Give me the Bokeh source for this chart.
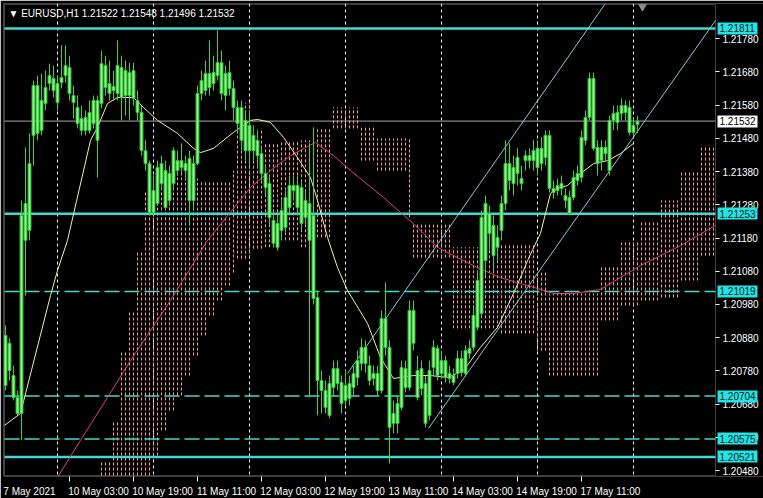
from bokeh.plotting import figure
from bokeh.models import Range1d, FixedTicker, Span, Label, PrintfTickFormatter, LinearAxis, BoxAnnotation
from bokeh.embed import file_html
from bokeh.resources import INLINE

# ---------------- data ----------------
symbol = "EURUSD,H1"
first_bar = -13          # bar index of first candle (0 = 10 May 00:00)

opens = [1.20887,1.20863,1.20766,1.20700,1.20652,1.21173,1.21203,1.21489,1.21639,1.21504,1.21585,1.21645,1.21660,
 1.21645,1.21648,1.21669,1.21693,1.21609,1.21573,1.21540,1.21504,1.21504,1.21525,1.21594,1.21585,1.21699,1.21645,
 1.21624,1.21615,1.21693,1.21609,1.21678,1.21684,1.21594,1.21558,1.21443,1.21404,1.21257,1.21284,1.21404,1.21383,
 1.21293,1.21344,1.21413,1.21392,1.21404,1.21419,1.21293,1.21404,1.21615,1.21624,1.21675,1.21645,1.21669,1.21708,
 1.21609,1.21678,1.21630,1.21573,1.21573,1.21534,1.21443,1.21489,1.21474,1.21434,1.21374,1.21344,1.21233,1.21152,
 1.21203,1.21212,1.21272,1.21338,1.21338,1.21224,1.21293,1.21284,1.21248,1.21001,1.20751,1.20721,1.20646,1.20730,
 1.20787,1.20745,1.20691,1.20742,1.20730,1.20760,1.20802,1.20851,1.20796,1.20757,1.20772,1.20721,1.20938,1.20851,
 1.20622,1.20622,1.20670,1.20787,1.20730,1.20962,1.20781,1.20727,1.20742,1.20646,1.20790,1.20848,1.20772,1.20811,
 1.20757,1.20766,1.20772,1.20817,1.20772,1.20832,1.20851,1.20911,1.20953,1.21112,1.21254,1.21218,1.21152,1.21203,
 1.21284,1.21404,1.21344,1.21374,1.21359,1.21413,1.21428,1.21413,1.21450,1.21404,1.21422,1.21489,1.21329,1.21323,
 1.21344,1.21308,1.21302,1.21302,1.21353,1.21362,1.21474,1.21543,1.21660,1.21453,1.21413,1.21434,1.21383,1.21534,
 1.21558,1.21555,1.21579,1.21573,1.21498,1.21522]
highs = [1.20917,1.20878,1.20796,1.20721,1.21293,1.21453,1.21495,1.21654,1.21669,1.21675,1.21684,1.21705,1.21699,
 1.21669,1.21760,1.21760,1.21729,1.21639,1.21609,1.21579,1.21564,1.21594,1.21609,1.21609,1.21744,1.21729,1.21714,
 1.21684,1.21775,1.21729,1.21714,1.21708,1.21708,1.21624,1.21579,1.21474,1.21413,1.21368,1.21413,1.21428,1.21413,
 1.21398,1.21453,1.21443,1.21465,1.21428,1.21443,1.21428,1.21639,1.21684,1.21714,1.21775,1.21729,1.21805,1.21744,
 1.21699,1.21714,1.21654,1.21594,1.21594,1.21564,1.21564,1.21519,1.21504,1.21459,1.21398,1.21368,1.21263,1.21248,
 1.21293,1.21323,1.21368,1.21368,1.21368,1.21353,1.21323,1.21465,1.21513,1.21022,1.20781,1.20751,1.20766,1.20811,
 1.20811,1.20766,1.20781,1.20766,1.20796,1.20841,1.20878,1.20872,1.20826,1.20796,1.20796,1.20962,1.21046,1.20872,
 1.20691,1.20706,1.20811,1.20811,1.20992,1.20992,1.20826,1.20811,1.20766,1.20811,1.20872,1.20857,1.20841,1.20826,
 1.20796,1.20787,1.20841,1.20841,1.20857,1.20872,1.20977,1.21082,1.21263,1.21308,1.21278,1.21248,1.21218,1.21308,
 1.21474,1.21465,1.21428,1.21450,1.21398,1.21443,1.21450,1.21474,1.21474,1.21483,1.21504,1.21504,1.21353,1.21359,
 1.21368,1.21329,1.21323,1.21383,1.21398,1.21504,1.21564,1.21678,1.21678,1.21474,1.21474,1.21474,1.21549,1.21579,
 1.21579,1.21600,1.21594,1.21594,1.21540,1.21548]
lows = [1.20721,1.20751,1.20691,1.20646,1.20571,1.21007,1.21173,1.21398,1.21474,1.21489,1.21564,1.21624,1.21603,
 1.21564,1.21630,1.21648,1.21594,1.21540,1.21510,1.21489,1.21489,1.21495,1.21510,1.21362,1.21570,1.21609,1.21594,
 1.21594,1.21594,1.21534,1.21549,1.21534,1.21579,1.21534,1.21428,1.21383,1.21248,1.21248,1.21278,1.21323,1.21263,
 1.21278,1.21323,1.21368,1.21377,1.21353,1.21218,1.21263,1.21398,1.21594,1.21609,1.21609,1.21624,1.21654,1.21594,
 1.21564,1.21609,1.21534,1.21504,1.21443,1.21413,1.21398,1.21413,1.21398,1.21353,1.21308,1.21218,1.21152,1.21142,
 1.21173,1.21197,1.21248,1.21293,1.21248,1.21203,1.21218,1.20700,1.20980,1.20646,1.20652,1.20652,1.20637,1.20706,
 1.20721,1.20652,1.20676,1.20676,1.20706,1.20736,1.20781,1.20775,1.20736,1.20736,1.20706,1.20712,1.20826,1.20501,
 1.20592,1.20592,1.20661,1.20715,1.20721,1.20841,1.20691,1.20706,1.20610,1.20631,1.20766,1.20751,1.20757,1.20745,
 1.20742,1.20736,1.20757,1.20763,1.20763,1.20817,1.20841,1.20902,1.20947,1.21067,1.21142,1.21082,1.21112,1.21173,
 1.21263,1.21323,1.21308,1.21338,1.21323,1.21383,1.21389,1.21383,1.21368,1.21383,1.21398,1.21317,1.21299,1.21308,
 1.21308,1.21269,1.21248,1.21293,1.21338,1.21347,1.21459,1.21534,1.21443,1.21368,1.21383,1.21413,1.21368,1.21504,
 1.21504,1.21534,1.21534,1.21489,1.21489,1.21496]
closes = [1.20736,1.20781,1.20700,1.20652,1.21248,1.21284,1.21404,1.21639,1.21495,1.21594,1.21633,1.21669,1.21624,
 1.21588,1.21663,1.21699,1.21615,1.21588,1.21525,1.21504,1.21543,1.21558,1.21594,1.21474,1.21705,1.21633,1.21615,
 1.21636,1.21699,1.21603,1.21684,1.21609,1.21600,1.21558,1.21443,1.21404,1.21257,1.21323,1.21392,1.21344,1.21272,
 1.21374,1.21443,1.21383,1.21413,1.21383,1.21293,1.21404,1.21615,1.21654,1.21675,1.21633,1.21678,1.21708,1.21615,
 1.21675,1.21630,1.21573,1.21525,1.21474,1.21443,1.21519,1.21443,1.21428,1.21374,1.21332,1.21242,1.21164,1.21224,
 1.21263,1.21302,1.21338,1.21323,1.21272,1.21332,1.21242,1.21173,1.20998,1.20751,1.20721,1.20670,1.20742,1.20787,
 1.20742,1.20682,1.20736,1.20697,1.20772,1.20811,1.20851,1.20802,1.20751,1.20772,1.20721,1.20938,1.20851,1.20610,
 1.20652,1.20682,1.20790,1.20730,1.20962,1.20863,1.20700,1.20787,1.20622,1.20781,1.20851,1.20766,1.20811,1.20760,
 1.20772,1.20745,1.20817,1.20775,1.20841,1.20848,1.20947,1.21052,1.21242,1.21284,1.21194,1.21127,1.21182,1.21284,
 1.21404,1.21353,1.21392,1.21422,1.21344,1.21428,1.21413,1.21443,1.21392,1.21450,1.21489,1.21329,1.21317,1.21338,
 1.21329,1.21293,1.21254,1.21362,1.21374,1.21483,1.21543,1.21660,1.21450,1.21404,1.21453,1.21453,1.21534,1.21555,
 1.21528,1.21579,1.21558,1.21498,1.21519,1.21532]

time_ticks = [-13, 3, 19, 35, 51, 67, 83, 99, 115, 131]
time_labels = ["7 May 2021", "10 May 03:00", "10 May 19:00", "11 May 11:00", "12 May 03:00",
               "12 May 19:00", "13 May 11:00", "14 May 03:00", "14 May 19:00", "17 May 11:00"]
day_breaks = [0, 24, 48, 72, 96, 120, 144]
price_ticks = [1.20480, 1.20580, 1.20680, 1.20780, 1.20880, 1.20980, 1.21080,
               1.21180, 1.21280, 1.21380, 1.21480, 1.21580, 1.21680, 1.21780]

levels_solid = [1.21811, 1.21253, 1.20521]
levels_dashed = [1.21019, 1.20704, 1.20575]
shift_marker = (146.25, 1.21877)

# yellow moving average (bar index, price)
ma_fast_x = [-13.25, -9.25, -1.75, 0, 2.5, 8.25, 10, 12.5, 15, 19, 21.5, 25, 30, 34, 35.75, 39, 44, 48.25,
             50, 53.25, 56.5, 60, 63.25, 65, 67.5, 70, 72.5, 77.5, 80.75, 84, 89, 93.25, 97.5, 101.5, 105.75,
             110, 114, 116.5, 117.5, 120.75, 123.25, 125, 127.5, 130.75, 134, 137.5, 140.75, 144]
ma_fast_y = [1.20616, 1.20652, 1.21007, 1.21082, 1.21173, 1.21474, 1.21513, 1.21585, 1.21603, 1.21603,
             1.21573, 1.21534, 1.21495, 1.21450, 1.21437, 1.21450, 1.21498, 1.21534, 1.21537, 1.21528,
             1.21483, 1.21422, 1.21362, 1.21293, 1.21182, 1.21091, 1.21022, 1.20923, 1.20820, 1.20757,
             1.20766, 1.20766, 1.20760, 1.20781, 1.20851, 1.20911, 1.21013, 1.21082, 1.21112, 1.21194,
             1.21314, 1.21329, 1.21338, 1.21374, 1.21404, 1.21413, 1.21434, 1.21465]
# red moving average (bar index, price)
ma_slow_x = [-0.5, 5.75, 12.5, 18.25, 28.25, 37.5, 48.25, 53.25, 58.25, 64.5, 69, 73.25, 81.5, 90, 95, 100,
             105, 110.75, 115.75, 120, 124, 129, 135.75, 145.75, 155.75, 164.5]
ma_slow_y = [1.20450, 1.20571, 1.20700, 1.20811, 1.20992, 1.21173, 1.21332, 1.21383, 1.21428, 1.21468,
             1.21428, 1.21383, 1.21302, 1.21212, 1.21152, 1.21121, 1.21091, 1.21061, 1.21043, 1.21028,
             1.21013, 1.21013, 1.21025, 1.21097, 1.21157, 1.21218]

# Ichimoku cloud: runs of (bars, upper span, lower span), starting at bar 11
cloud_first_bar = 11
cloud_runs = [(3, 1.20510, 1.20390), (2, 1.20631, 1.20390), (2, 1.20841, 1.20390), (2, 1.20962, 1.20390),
              (2, 1.21142, 1.20420), (2, 1.21323, 1.20450), (2, 1.21383, 1.20525), (2, 1.21383, 1.20601),
              (2, 1.21377, 1.20661), (2, 1.21377, 1.20706), (2, 1.21368, 1.20766), (2, 1.21359, 1.20826),
              (2, 1.21353, 1.20887), (2, 1.21353, 1.20947), (2, 1.21353, 1.20992), (2, 1.21353, 1.21037),
              (1, 1.21383, 1.21076), (4, 1.21588, 1.21118), (3, 1.21510, 1.21148), (4, 1.21468, 1.21152),
              (5, 1.21468, 1.21173), (4, 1.21474, 1.21152), (4, 1.21513, 1.21182), (7, 1.21573, 1.21510),
              (4, 1.21519, 1.21413), (8, 1.21480, 1.21383), (1, 1.21480, 1.21242), (10, 1.21227, 1.21121),
              (12, 1.21152, 1.20908), (9, 1.21158, 1.20893), (3, 1.21082, 1.20841), (13, 1.21013, 1.20766),
              (5, 1.21097, 1.20932), (5, 1.21173, 1.20977), (5, 1.21233, 1.20992), (5, 1.21293, 1.21001),
              (5, 1.21383, 1.21052), (4, 1.21459, 1.21127)]

# equidistant channel anchors (bar index, price)
channel_upper = [(72.5, 1.20772), (137.5, 1.21895)]
channel_lower = [(92.75, 1.20607), (164.5, 1.21835)]

# ---------------- figure ----------------
# chart area (bars / prices) and the whole drawing area including the price scale
CX0, CX1 = -13.25, 164.5          # chart border, left / right
CY0, CY1 = 1.20465, 1.21883       # chart border, bottom / top
X0, X1 = -13.5, 176.5
Y0, Y1 = 1.20462, 1.21886
FONT = "Liberation Sans"
FS = "10px"
CYAN_LINE = "#44d8d0"
CYAN_BOX = "#22e4e4"

p = figure(frame_width=760, frame_height=473, output_backend="svg", toolbar_location=None,
           x_range=Range1d(X0, X1), y_range=Range1d(Y0, Y1),
           y_axis_location="right",
           min_border_left=3, min_border_top=3, min_border_right=0, min_border_bottom=22,
           background_fill_color="black", border_fill_color="black",
           outline_line_color=None)
p.grid.visible = False

# chart border
p.add_layout(BoxAnnotation(left=CX0, right=CX1, bottom=CY0, top=CY1, fill_alpha=0,
                           line_color="#d8d8d8", line_width=1, level="underlay"))

# price scale, drawn at the right border of the chart
ya = p.yaxis[0]
ya.fixed_location = CX1
ya.ticker = FixedTicker(ticks=price_ticks)
ya.formatter = PrintfTickFormatter(format="%.5f")
ya.axis_line_color = None
ya.major_tick_line_color = "white"
ya.major_tick_out = 4
ya.major_tick_in = 0
ya.minor_tick_line_color = None
ya.major_label_standoff = 3
ya.major_label_text_color = "white"
ya.major_label_text_font = FONT
ya.major_label_text_font_size = FS

# marked price levels on the price scale (coloured boxes)
def level_axis(ticks, box_color, text_color):
    return LinearAxis(fixed_location=CX1 + 0.5, ticker=FixedTicker(ticks=ticks),
                      formatter=PrintfTickFormatter(format="%.5f"),
                      axis_line_color=None, minor_tick_line_color=None,
                      major_tick_line_color=box_color, major_tick_line_width=12,
                      major_tick_out=40, major_tick_in=0, major_label_standoff=-38,
                      major_label_text_color=text_color, major_label_text_font=FONT,
                      major_label_text_font_size=FS)

p.add_layout(level_axis(levels_solid + levels_dashed, CYAN_BOX, "#0a2020"), "right")
p.add_layout(level_axis([closes[-1]], "#ffffff", "#000000"), "right")

# time axis: labels left-aligned on their tick marks (tick marks drawn as minor ticks)
label_pos = [round(t + len(s) * 5.0 / 8.0 - 0.25, 3) for t, s in zip(time_ticks, time_labels)]
xa = p.xaxis[0]
xa.ticker = FixedTicker(ticks=label_pos, minor_ticks=time_ticks[1:])
xa.major_label_overrides = {lp: s for lp, s in zip(label_pos, time_labels)}
xa.axis_line_color = None
xa.major_tick_line_color = None
xa.major_tick_out = 0
xa.major_tick_in = 0
xa.minor_tick_line_color = "white"
xa.minor_tick_out = 5
xa.minor_tick_in = 0
xa.major_label_standoff = 4
xa.major_label_text_color = "white"
xa.major_label_text_font = FONT
xa.major_label_text_font_size = FS

# day separators
for d in day_breaks:
    p.add_layout(Span(location=d, dimension="height", line_color="#f0f0f0",
                      line_dash="3 3", line_width=1, level="underlay"))

# cloud
cx, ctop, cbot = [], [], []
b = cloud_first_bar
for cnt, top, bot in cloud_runs:
    for _ in range(cnt):
        cx.append(b); ctop.append(top); cbot.append(max(bot, CY0))
        b += 1
p.segment(x0=cx, y0=cbot, x1=cx, y1=ctop, line_color="#f79aa2", line_width=1, line_dash="3 2")

# horizontal levels (inside the chart border)
p.segment(x0=[CX0] * len(levels_solid), x1=[CX1] * len(levels_solid), y0=levels_solid, y1=levels_solid,
          line_color=CYAN_LINE, line_width=2.5)
p.segment(x0=[CX0] * len(levels_dashed), x1=[CX1] * len(levels_dashed), y0=levels_dashed, y1=levels_dashed,
          line_color=CYAN_LINE, line_width=1.5, line_dash="15 5")
p.segment(x0=[CX0], x1=[CX1], y0=[closes[-1]], y1=[closes[-1]], line_color="#a8a8a8", line_width=1)

# moving averages
p.line(ma_slow_x, ma_slow_y, line_color="#d8466a", line_width=1)
p.line(ma_fast_x, ma_fast_y, line_color="#f4f0a0", line_width=1)

# channel (rays up to the chart border)
for (xa0, ya0), (xa1, ya1) in (channel_upper, channel_lower):
    slope = (ya1 - ya0) / (xa1 - xa0)
    xe = min(CX1, xa0 + (CY1 - ya0) / slope)
    p.segment(x0=[xa0], y0=[ya0], x1=[xe], y1=[ya0 + slope * (xe - xa0)],
              line_color="#8cc4d4", line_width=1)

# candles
bars = list(range(first_bar, first_bar + len(opens)))
tops = [max(o, c) for o, c in zip(opens, closes)]
bots = [min(o, c) for o, c in zip(opens, closes)]
p.segment(x0=bars, y0=lows, x1=bars, y1=highs, line_color="#3ad63a", line_width=1)
p.vbar(x=bars, width=0.72, top=tops, bottom=bots, fill_color="#94f094", line_color="#28cc28", line_width=1)

# chart-shift marker on the top border
p.scatter(x=[shift_marker[0]], y=[shift_marker[1]], marker="inverted_triangle", size=8,
          fill_color="#8c8c8c", line_color="#8c8c8c")

# header
p.add_layout(Label(x=CX0, y=1.21856, x_offset=4, text="\u25bc %s  %.5f %.5f %.5f %.5f" % (
    symbol, opens[-1], highs[-1], lows[-1], closes[-1]), text_align="left", text_baseline="middle",
    text_color="white", text_font=FONT, text_font_size=FS))

html = file_html(p, INLINE)
html = html.replace("<body>", '<body style="background-color:#000000;">', 1)
open("out.html", "w").write(html)
